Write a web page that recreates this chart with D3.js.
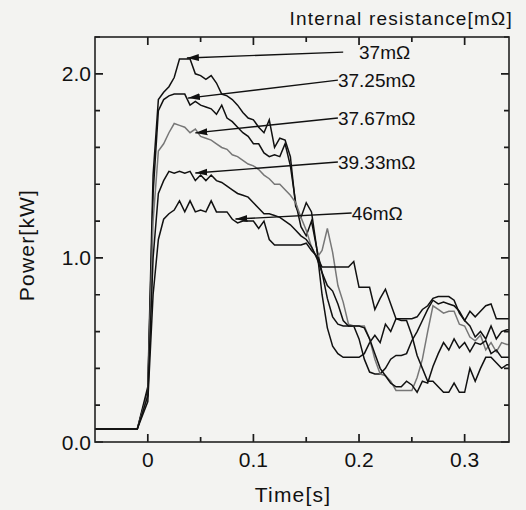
<!DOCTYPE html>
<html lang="en">
<head>
<meta charset="UTF-8">
<title>Power vs Time</title>
<style>
  body { margin: 0; background: #f3f3f1; }
  svg { display: block; font-family: Arial, "Liberation Sans", sans-serif; }
</style>
</head>
<body>
<div id="chart"></div>
<script src="https://d3js.org/d3.v7.min.js"></script>
<script>
// time [s]
const time = [-0.05, -0.01,
  0.000, 0.005, 0.010, 0.015, 0.020, 0.025, 0.030, 0.035, 0.040, 0.045,
  0.050, 0.055, 0.060, 0.065, 0.070, 0.075, 0.080, 0.085, 0.090, 0.095,
  0.100, 0.105, 0.110, 0.115, 0.120, 0.125, 0.130, 0.135, 0.140, 0.145,
  0.150, 0.155, 0.160, 0.165, 0.170, 0.175, 0.180, 0.185, 0.190, 0.195,
  0.200, 0.205, 0.210, 0.215, 0.220, 0.225, 0.230, 0.235, 0.240, 0.245,
  0.250, 0.255, 0.260, 0.265, 0.270, 0.275, 0.280, 0.285, 0.290, 0.295,
  0.300, 0.305, 0.310, 0.315, 0.320, 0.325, 0.330, 0.335, 0.340, 0.345];

// power [kW] per internal resistance
const p37 = [0.07, 0.07,
  0.30, 1.45, 1.86, 1.90, 1.93, 1.98, 2.08, 2.08, 2.08, 2.00,
  1.99, 1.97, 1.99, 1.95, 1.89, 1.88, 1.86, 1.83, 1.79, 1.76,
  1.75, 1.71, 1.68, 1.75, 1.60, 1.65, 1.64, 1.55, 1.28, 1.22,
  1.30, 1.25, 1.05, 0.80, 0.62, 0.52, 0.48, 0.46, 0.46, 0.46,
  0.46, 0.48, 0.54, 0.58, 0.54, 0.64, 0.60, 0.67, 0.67, 0.67,
  0.67, 0.68, 0.72, 0.74, 0.78, 0.79, 0.79, 0.79, 0.77, 0.70,
  0.66, 0.71, 0.68, 0.71, 0.74, 0.75, 0.67, 0.67, 0.67, 0.67];
const p3725 = [0.07, 0.07,
  0.28, 1.35, 1.80, 1.86, 1.88, 1.89, 1.89, 1.89, 1.83, 1.85,
  1.83, 1.82, 1.81, 1.78, 1.83, 1.76, 1.74, 1.71, 1.68, 1.66,
  1.62, 1.62, 1.57, 1.55, 1.56, 1.55, 1.62, 1.50, 1.30, 1.17,
  1.12, 1.20, 1.05, 0.92, 0.78, 0.68, 0.64, 0.63, 0.63, 0.63,
  0.56, 0.45, 0.38, 0.37, 0.37, 0.40, 0.45, 0.47, 0.47, 0.48,
  0.55, 0.60, 0.66, 0.72, 0.77, 0.75, 0.76, 0.75, 0.74, 0.71,
  0.66, 0.63, 0.57, 0.60, 0.56, 0.63, 0.56, 0.60, 0.61, 0.61];
const p3767 = [0.07, 0.07,
  0.26, 1.20, 1.58, 1.62, 1.68, 1.73, 1.72, 1.71, 1.68, 1.70,
  1.66, 1.65, 1.64, 1.62, 1.60, 1.59, 1.56, 1.55, 1.53, 1.51,
  1.50, 1.48, 1.45, 1.43, 1.40, 1.40, 1.37, 1.34, 1.30, 1.22,
  1.15, 1.06, 1.00, 1.04, 1.16, 1.03, 0.85, 0.76, 0.64, 0.63,
  0.63, 0.63, 0.56, 0.45, 0.37, 0.36, 0.33, 0.28, 0.28, 0.28,
  0.28, 0.35, 0.45, 0.60, 0.74, 0.72, 0.70, 0.71, 0.71, 0.64,
  0.63, 0.57, 0.55, 0.58, 0.50, 0.54, 0.49, 0.54, 0.53, 0.53];
const p3933 = [0.07, 0.07,
  0.25, 1.00, 1.35, 1.42, 1.47, 1.46, 1.47, 1.46, 1.47, 1.42,
  1.45, 1.42, 1.45, 1.42, 1.41, 1.39, 1.37, 1.35, 1.34, 1.33,
  1.30, 1.27, 1.24, 1.24, 1.23, 1.22, 1.20, 1.18, 1.15, 1.12,
  1.10, 1.06, 1.00, 0.92, 0.85, 0.82, 0.75, 0.66, 0.63, 0.63,
  0.63, 0.62, 0.56, 0.48, 0.40, 0.36, 0.32, 0.30, 0.30, 0.33,
  0.31, 0.27, 0.33, 0.32, 0.41, 0.48, 0.54, 0.50, 0.56, 0.51,
  0.54, 0.49, 0.54, 0.53, 0.55, 0.48, 0.50, 0.46, 0.46, 0.46];
const p46 = [0.07, 0.07,
  0.22, 0.80, 1.10, 1.21, 1.24, 1.26, 1.31, 1.25, 1.31, 1.25,
  1.26, 1.25, 1.31, 1.25, 1.25, 1.25, 1.21, 1.19, 1.20, 1.20,
  1.20, 1.16, 1.20, 1.10, 1.07, 1.07, 1.07, 1.07, 1.07, 1.07,
  1.08, 1.04, 1.01, 0.95, 0.95, 0.95, 0.95, 0.95, 0.95, 0.98,
  0.84, 0.84, 0.84, 0.72, 0.78, 0.83, 0.75, 0.67, 0.66, 0.66,
  0.58, 0.47, 0.40, 0.33, 0.33, 0.30, 0.27, 0.27, 0.32, 0.27,
  0.27, 0.40, 0.33, 0.40, 0.46, 0.46, 0.43, 0.40, 0.42, 0.42];

const seriesNames = ["37m\u03a9", "37.25m\u03a9", "37.67m\u03a9", "39.33m\u03a9", "46m\u03a9"];
const seriesValues = [p37, p3725, p3767, p3933, p46];
const seriesColors = ["#111", "#111", "#777", "#111", "#111"];

// annotation arrows, data units: tip on the curve, tail near the label
const arrowTip = [[0.037, 2.086], [0.038, 1.868], [0.045, 1.679], [0.045, 1.461], [0.083, 1.211]];
const arrowTail = [[0.185, 2.118], [0.180, 1.966], [0.180, 1.760], [0.180, 1.521], [0.193, 1.244]];
const labelStart = [0.200, 0.180, 0.180, 0.180, 0.193];

const xMajor = [0, 0.1, 0.2, 0.3];
const xMinor = [0.05, 0.15, 0.25];
const yMajor = [0, 1, 2];
const yMinor = [0.2, 0.4, 0.6, 0.8, 1.2, 1.4, 1.6, 1.8, 2.2];

const W = 526, H = 510;
const mLeft = 95, mRight = 509, mTop = 37, mBottom = 442;

const svg = d3.select('#chart').append('svg')
  .attr('width', W).attr('height', H);

const x = d3.scaleLinear().domain([-0.05, 0.342]).range([mLeft, mRight]);
const y = d3.scaleLinear().domain([0, 2.2]).range([mBottom, mTop]);

const defs = svg.append('defs');
defs.append('clipPath').attr('id', 'plot')
  .append('rect').attr('x', mLeft).attr('y', mTop)
  .attr('width', mRight - mLeft).attr('height', mBottom - mTop);

const marker = defs.append('marker')
  .attr('id', 'head')
  .attr('markerUnits', 'userSpaceOnUse')
  .attr('viewBox', '0 -4 12 8')
  .attr('refX', 12).attr('refY', 0)
  .attr('markerWidth', 12).attr('markerHeight', 8)
  .attr('orient', 'auto');
marker.append('path').attr('d', 'M0,-3.5L12,0L0,3.5Z').attr('fill', '#111');

// curves
const line = d3.line()
  .x((d, i) => x(time[i]))
  .y(d => y(d));

svg.append('g').attr('clip-path', 'url(#plot)')
  .selectAll('path')
  .data(seriesValues)
  .join('path')
  .attr('d', d => line(d))
  .attr('fill', 'none')
  .attr('stroke', (d, i) => seriesColors[i])
  .attr('stroke-width', 1.5)
  .attr('stroke-linejoin', 'miter');

// tick marks, pointing inward on all four sides
const xTickPath = (values, len) => values.map(v =>
  `M${x(v)},${mBottom}v${-len}M${x(v)},${mTop}v${len}`).join('');
const yTickPath = (values, len) => values.map(v =>
  `M${mLeft},${y(v)}h${len}M${mRight},${y(v)}h${-len}`).join('');

svg.append('path')
  .attr('d', xTickPath(xMajor, 8) + xTickPath(xMinor, 5) +
             yTickPath(yMajor, 8) + yTickPath(yMinor, 5))
  .attr('fill', 'none')
  .attr('stroke', '#1a1a1a')
  .attr('stroke-width', 1.7);

// tick labels
svg.append('g').selectAll('text')
  .data(xMajor)
  .join('text')
  .attr('x', d => x(d)).attr('y', mBottom + 25)
  .attr('text-anchor', 'middle')
  .attr('font-size', 21).attr('fill', '#111')
  .text(d => d === 0 ? '0' : d3.format('.1f')(d));

svg.append('g').selectAll('text')
  .data(yMajor)
  .join('text')
  .attr('x', mLeft - 4).attr('y', d => y(d))
  .attr('dy', '0.36em')
  .attr('text-anchor', 'end')
  .attr('font-size', 21).attr('fill', '#111')
  .text(d3.format('.1f'));

svg.append('rect')
  .attr('x', mLeft).attr('y', mTop)
  .attr('width', mRight - mLeft).attr('height', mBottom - mTop)
  .attr('fill', 'none').attr('stroke', '#222').attr('stroke-width', 1.6);

// arrows and labels
svg.append('g').selectAll('line')
  .data(seriesNames)
  .join('line')
  .attr('x1', (d, i) => x(arrowTail[i][0]))
  .attr('y1', (d, i) => y(arrowTail[i][1]))
  .attr('x2', (d, i) => x(arrowTip[i][0]))
  .attr('y2', (d, i) => y(arrowTip[i][1]))
  .attr('stroke', '#111').attr('stroke-width', 1.4)
  .attr('marker-end', 'url(#head)');

svg.append('g').selectAll('text')
  .data(seriesNames)
  .join('text')
  .attr('x', (d, i) => x(labelStart[i]))
  .attr('y', (d, i) => y(arrowTail[i][1]))
  .attr('dy', '0.36em')
  .attr('font-size', 19)
  .attr('fill', '#111')
  .text(d => d);

svg.append('text')
  .attr('x', 513).attr('y', 25)
  .attr('text-anchor', 'end')
  .attr('font-size', 19).attr('letter-spacing', 1.2).attr('fill', '#111')
  .text('Internal resistance[m\u03a9]');

svg.append('text')
  .attr('x', 293).attr('y', 502)
  .attr('text-anchor', 'middle')
  .attr('font-size', 21).attr('letter-spacing', 1.2).attr('fill', '#111')
  .text('Time[s]');

svg.append('text')
  .attr('transform', 'translate(34,245) rotate(-90)')
  .attr('text-anchor', 'middle')
  .attr('font-size', 21).attr('letter-spacing', 1.2).attr('fill', '#111')
  .text('Power[kW]');
</script>
</body>
</html>
